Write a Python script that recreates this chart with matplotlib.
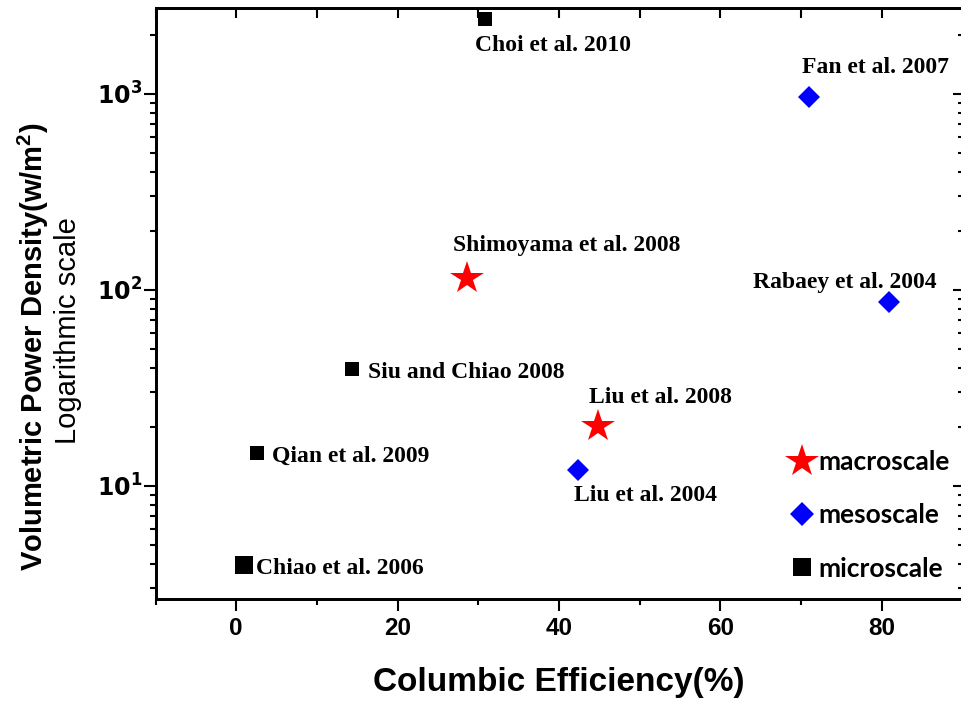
import numpy as np
import matplotlib
matplotlib.use("Agg")
import matplotlib.pyplot as plt
from matplotlib.lines import Line2D
from matplotlib.ticker import FixedLocator, NullLocator, LogLocator, FuncFormatter, MultipleLocator

# Studies: columbic efficiency (%) vs volumetric power density (W/m^2)
studies = ["Choi et al. 2010", "Fan et al. 2007", "Shimoyama et al. 2008",
           "Rabaey et al. 2004", "Siu and Chiao 2008", "Liu et al. 2008",
           "Qian et al. 2009", "Liu et al. 2004", "Chiao et al. 2006"]
efficiency = [30.8, 71.0, 28.6, 80.9, 14.4, 44.8, 2.6, 42.4, 1.0]
power_density = [2400, 960, 115, 87, 39.3, 20.1, 14.7, 12.0, 3.93]
scale_class = ["micro", "meso", "macro", "meso", "micro", "macro",
               "micro", "meso", "micro"]

legend_labels = ["macroscale", "mesoscale", "microscale"]
x_ticks = [0, 20, 40, 60, 80]

styles = {
    "macro": dict(marker="*", color="#ff0000", ms=25),
    "meso": dict(marker="D", color="#0000ff", ms=11.5),
    "micro": dict(marker="s", color="#000000", ms=10),
}
big_square = {"Chiao et al. 2006": 12.5}

# label placement (offset in points, horizontal alignment)
label_pos = {
    "Choi et al. 2010": ((49, -19), "center"),
    "Fan et al. 2007": ((48, 21), "center"),
    "Shimoyama et al. 2008": ((72, 23), "center"),
    "Rabaey et al. 2004": ((-32, 14), "center"),
    "Siu and Chiao 2008": ((11.5, -2.2), "left"),
    "Liu et al. 2008": ((45, 21), "center"),
    "Qian et al. 2009": ((10.8, -2.2), "left"),
    "Liu et al. 2004": ((48, -18), "center"),
    "Chiao et al. 2006": ((8.6, -2.2), "left"),
}

W, H = 961, 702
fig = plt.figure(figsize=(W / 100, H / 100), dpi=100)
x0, x1, y0, y1 = 155.5, 962.5, 8, 599
ax = fig.add_axes([x0 / W, 1 - y1 / H, (x1 - x0) / W, (y1 - y0) / H])

xlim = (-10, 90)
ylim = (2.65, 2730)
ax.set_xscale("linear")
ax.set_yscale("log")

for name, xv, yv, cls in zip(studies, efficiency, power_density, scale_class):
    st = dict(styles[cls])
    if name in big_square:
        st["ms"] = big_square[name]
    ax.plot([xv], [yv], linestyle="none", marker=st["marker"], color=st["color"],
            markersize=st["ms"], markeredgewidth=0, zorder=3, clip_on=False)
    off, ha = label_pos[name]
    ax.annotate(name, (xv, yv), xytext=off, textcoords="offset points",
                ha=ha, va="center", fontsize=17, fontweight="bold",
                family="Liberation Serif")

ax.set_xlim(*xlim)
ax.set_ylim(*ylim)

spine_w = 1.8
for s in ax.spines.values():
    s.set_linewidth(spine_w)

ax.xaxis.set_major_locator(FixedLocator(x_ticks))
ax.xaxis.set_minor_locator(MultipleLocator(10))
ax.yaxis.set_major_locator(LogLocator(base=10, numticks=10))
ax.yaxis.set_minor_locator(LogLocator(base=10, subs=np.arange(2, 10), numticks=20))
ax.tick_params(which="major", direction="out", length=8.3, width=1.5, pad=2)
ax.tick_params(which="minor", direction="out", length=4.3, width=1.5)
ax.tick_params(axis="x", labelsize=17.5, pad=5)
ax.tick_params(axis="y", labelsize=17, pad=1)

plt.rcParams["mathtext.fontset"] = "custom"
plt.rcParams["mathtext.bf"] = "Liberation Sans:bold"
plt.rcParams["mathtext.rm"] = "Liberation Sans"
ax.yaxis.set_major_formatter(FuncFormatter(
    lambda v, p: r"$\mathbf{10^{%d}}$" % int(round(np.log10(v)))))
for lab in ax.get_xticklabels():
    lab.set_fontweight("bold")
    lab.set_family("Liberation Sans")

# inward ticks on the top and right spines
axt = ax.twiny()
axt.set_xlim(*xlim)
axt.xaxis.set_major_locator(MultipleLocator(10))
axt.xaxis.set_minor_locator(NullLocator())
axt.tick_params(axis="x", direction="in", length=7.2, width=1.5, labeltop=False)
axr = ax.twinx()
axr.set_yscale("log")
axr.set_ylim(*ylim)
axr.yaxis.set_major_locator(LogLocator(base=10, numticks=10))
axr.yaxis.set_minor_locator(LogLocator(base=10, subs=np.arange(2, 10), numticks=20))
axr.tick_params(axis="y", which="major", direction="in", length=7.2, width=1.5, labelright=False)
axr.tick_params(axis="y", which="minor", direction="in", length=3.6, width=1.5)
for a in (axt, axr):
    for s in a.spines.values():
        s.set_linewidth(spine_w)

# axis titles
fig.text(559 / W, 1 - 683 / H, "Columbic Efficiency(%)", ha="center", va="center",
         fontsize=24, fontweight="bold", family="Liberation Sans")
fig.text(33 / W, 1 - 347 / H, r"Volumetric Power Density(w/m$^\mathbf{2}$)",
         rotation=90, ha="center", va="center", fontsize=21, fontweight="bold",
         family="Liberation Sans")
fig.text(68 / W, 1 - 331 / H, "Logarithmic scale", rotation=90, ha="center",
         va="center", fontsize=21, family="Liberation Sans")

# legend for the three device scales
handle_scale = {"macro": 1.0, "meso": 1.05, "micro": 1.25}
handles = [Line2D([], [], linestyle="none", marker=styles[k]["marker"],
                  color=styles[k]["color"], markersize=styles[k]["ms"] * handle_scale[k],
                  markeredgewidth=0)
           for k in ("macro", "meso", "micro")]
axr.legend(handles, legend_labels, loc="upper left",
           bbox_to_anchor=(789 / W, 1 - 450 / H), bbox_transform=fig.transFigure,
           frameon=False, handlelength=1.0, handletextpad=0.12,
           labelspacing=1.11, borderpad=0, borderaxespad=0,
           prop=dict(family="Lato", weight="bold", size=19))

fig.savefig("out.png", dpi=100)
